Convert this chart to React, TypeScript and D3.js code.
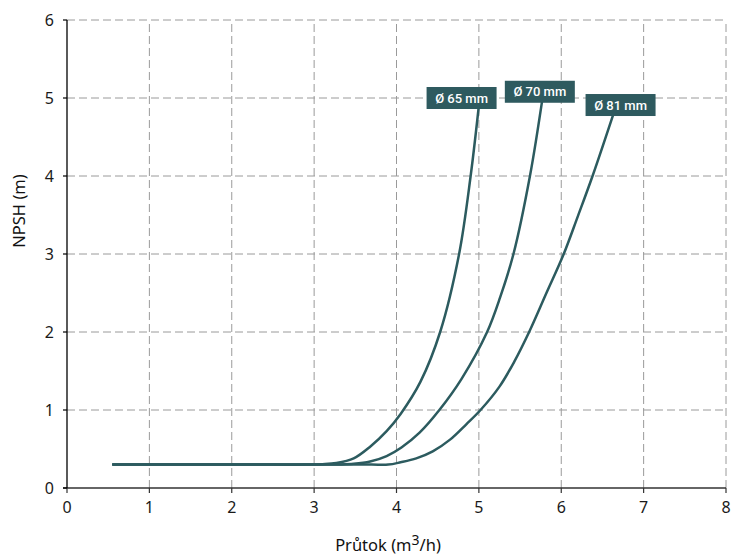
import React from "react";
import * as d3 from "d3";

const xTicks = [0, 1, 2, 3, 4, 5, 6, 7, 8];
const yTicks = [0, 1, 2, 3, 4, 5, 6];

const flow65 = [0.56, 1.5, 2.5, 2.9, 3.1, 3.27, 3.48, 3.68, 3.88, 4.05, 4.29, 4.53, 4.76, 4.9, 5.01];
const npsh65 = [0.3, 0.3, 0.3, 0.3, 0.305, 0.32, 0.38, 0.53, 0.73, 0.95, 1.36, 2.0, 3.0, 4.0, 5.0];

const flow70 = [0.56, 1.5, 2.5, 3.1, 3.3, 3.48, 3.68, 3.88, 4.06, 4.28, 4.52, 4.79, 5.1, 5.26, 5.42, 5.62, 5.78];
const npsh70 = [0.3, 0.3, 0.3, 0.3, 0.302, 0.31, 0.34, 0.41, 0.52, 0.71, 1.0, 1.4, 2.0, 2.45, 3.0, 4.0, 5.05];

const flow81 = [0.56, 1.5, 2.5, 3.3, 3.7, 3.9, 4.05, 4.24, 4.44, 4.65, 4.85, 5.02, 5.25, 5.43, 5.61, 5.82, 6.03, 6.2, 6.38, 6.66];
const npsh81 = [0.3, 0.3, 0.3, 0.3, 0.3, 0.3, 0.33, 0.38, 0.47, 0.62, 0.82, 1.0, 1.3, 1.62, 2.0, 2.5, 3.0, 3.48, 4.0, 4.88];

const seriesNames = ["Ø 65 mm", "Ø 70 mm", "Ø 81 mm"];
const labelFlow = [4.79, 5.74, 6.72];
const labelNpsh = [5.0, 5.08, 4.91];

const W = 733;
const H = 556;
const M = { left: 67, right: 7, top: 20, bottom: 68 };
const LINE_COLOR = "#2c5b5f";
const BOX_COLOR = "#2e5a5f";

export default function App() {
  const x = d3.scaleLinear().domain([0, 8]).range([M.left, W - M.right]);
  const y = d3.scaleLinear().domain([0, 6]).range([H - M.bottom, M.top]);

  const series = [
    flow65.map((f, i) => [f, npsh65[i]] as [number, number]),
    flow70.map((f, i) => [f, npsh70[i]] as [number, number]),
    flow81.map((f, i) => [f, npsh81[i]] as [number, number]),
  ];

  const line = d3
    .line<[number, number]>()
    .x((d) => x(d[0]))
    .y((d) => y(d[1]))
    .curve(d3.curveCatmullRom.alpha(0.5));

  const font = "'Noto Sans', 'Open Sans', sans-serif";

  return (
    <svg
      width={W}
      height={H}
      style={{ position: "absolute", left: 0, top: 0, background: "#fff" }}
    >
      {/* grid */}
      <g stroke="#9a9a9a" strokeWidth={1} strokeDasharray="8,4" fill="none">
        {xTicks
          .filter((t) => t > 0)
          .map((t) => (
            <line key={"gx" + t} x1={x(t)} x2={x(t)} y1={y(0)} y2={y(6)} />
          ))}
        {yTicks
          .filter((t) => t > 0)
          .map((t) => (
            <line key={"gy" + t} x1={x(0)} x2={x(8)} y1={y(t)} y2={y(t)} />
          ))}
      </g>

      {/* axes */}
      <line x1={x(0) - 4} x2={x(8)} y1={y(0)} y2={y(0)} stroke="#333" strokeWidth={1.3} />
      <line x1={x(0)} x2={x(0)} y1={y(0)} y2={y(6)} stroke="#000" strokeWidth={1.3} />
      {xTicks.map((t) => (
        <g key={"xt" + t}>
          <line x1={x(t)} x2={x(t)} y1={y(0)} y2={y(0) + 5} stroke="#333" strokeWidth={1.2} />
          <text
            x={x(t)}
            y={y(0) + 25}
            textAnchor="middle"
            fontFamily={font}
            fontSize={16}
            fill="#1a1a1a"
          >
            {t}
          </text>
        </g>
      ))}
      {yTicks.map((t) => (
        <g key={"yt" + t}>
          <line x1={x(0) - 4} x2={x(0)} y1={y(t)} y2={y(t)} stroke="#000" strokeWidth={1.2} />
          <text
            x={x(0) - 13}
            y={y(t)}
            dy="0.36em"
            textAnchor="end"
            fontFamily={font}
            fontSize={16}
            fill="#1a1a1a"
          >
            {t}
          </text>
        </g>
      ))}

      {/* axis titles */}
      <text
        x={388}
        y={551}
        textAnchor="middle"
        fontFamily={font}
        fontSize={16.5}
        fill="#111"
      >
        Průtok (m<tspan dy={-6} fontSize={14}>3</tspan>
        <tspan dy={6}>/h)</tspan>
      </text>
      <text
        transform="translate(25,211) rotate(-90)"
        textAnchor="middle"
        fontFamily={font}
        fontSize={16.5}
        fill="#111"
      >
        NPSH (m)
      </text>

      {/* curves */}
      {series.map((s, i) => (
        <path
          key={"s" + i}
          d={line(s) || ""}
          fill="none"
          stroke={LINE_COLOR}
          strokeWidth={2.5}
          strokeLinecap="round"
        />
      ))}

      {/* labels */}
      {seriesNames.map((n, i) => {
        const cx = x(labelFlow[i]);
        const cy = y(labelNpsh[i]);
        return (
          <g key={"l" + i}>
            <rect x={cx - 35} y={cy - 11} width={70} height={22} fill={BOX_COLOR} />
            <text
              x={cx}
              y={cy}
              dy="0.36em"
              textAnchor="middle"
              fontFamily="Roboto, sans-serif"
              fontWeight={500}
              fontSize={13}
              fill="#fff"
            >
              {n}
            </text>
          </g>
        );
      })}
    </svg>
  );
}
